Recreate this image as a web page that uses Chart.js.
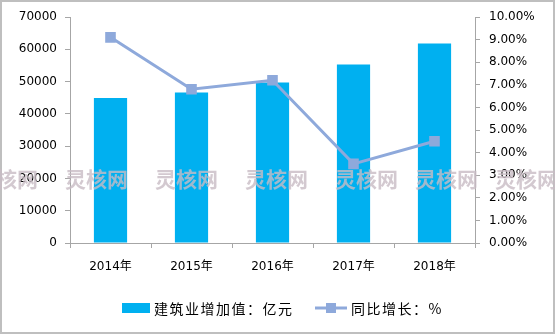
<!DOCTYPE html>
<html>
<head>
<meta charset="utf-8">
<script src="https://cdn.jsdelivr.net/npm/chart.js@4.4.0/dist/chart.umd.min.js"></script>
<style>
    body { margin: 0; background: #fff; }
    #wrap { width: 555px; height: 334px; }
</style>
</head>
<body>
<div id="wrap"><canvas id="chart" width="555" height="334"></canvas></div>
<script>
// data
const years = ['2014年', '2015年', '2016年', '2017年', '2018年'];
const addedValue = [44880, 46627, 49703, 55313, 61808]; // 亿元
const growthRate = [9.1, 6.8, 7.2, 3.5, 4.5]; // %
const barLabel = '建筑业增加值：亿元';
const lineLabel = '同比增长：%';
const watermark = '灵核网';

const barColor = '#00B0F0';
const lineColor = '#8EA9DB';
const axisColor = '#A6A6A6';
const numFont = { family: 'DejaVu Sans, Noto Sans CJK SC', size: 12 };

// frame + white background
const framePlugin = {
    id: 'frame',
    beforeDraw(chart) {
        const ctx = chart.ctx;
        ctx.save();
        ctx.fillStyle = '#fff';
        ctx.fillRect(0, 0, chart.width, chart.height);
        ctx.strokeStyle = '#BFBFBF';
        ctx.lineWidth = 2;
        ctx.strokeRect(1, 1, chart.width - 2, chart.height - 2);
        ctx.restore();
    }
};

// watermark row + legend drawn by hand
const extrasPlugin = {
    id: 'extras',
    afterDraw(chart) {
        const ctx = chart.ctx;
        ctx.save();
        ctx.font = 'bold 21px "Noto Sans CJK SC"';
        ctx.fillStyle = 'rgba(200, 188, 196, 0.8)';
        ctx.textBaseline = 'middle';
        [-25, 65, 155, 245, 335, 415, 495].forEach(x => ctx.fillText(watermark, x, 179));
        ctx.restore();

        const bars = chart.data.datasets.find(d => d.type !== 'line');
        const line = chart.data.datasets.find(d => d.type === 'line');
        ctx.save();
        ctx.font = '14px "Noto Sans CJK SC"';
        ctx.letterSpacing = '1.5px';
        ctx.textBaseline = 'middle';
        // bar item
        ctx.fillStyle = bars.backgroundColor;
        ctx.fillRect(122, 303, 28, 10);
        ctx.fillStyle = '#000';
        ctx.fillText(bars.label, 154, 309);
        // line item
        ctx.strokeStyle = line.borderColor;
        ctx.lineWidth = 3;
        ctx.beginPath();
        ctx.moveTo(315, 308);
        ctx.lineTo(347, 308);
        ctx.stroke();
        ctx.fillStyle = line.pointBackgroundColor;
        ctx.fillRect(326, 303, 10, 10);
        ctx.fillStyle = '#000';
        ctx.fillText(line.label, 351, 309);
        ctx.restore();
    }
};

new Chart(document.getElementById('chart'), {
    type: 'bar',
    data: {
        labels: years,
        datasets: [
            {
                type: 'line',
                label: lineLabel,
                data: growthRate,
                yAxisID: 'y1',
                borderColor: lineColor,
                borderWidth: 3,
                pointStyle: 'rect',
                pointRadius: 7.5,
                pointBackgroundColor: lineColor,
                pointBorderColor: lineColor,
                pointBorderWidth: 0,
                tension: 0,
                order: 0
            },
            {
                type: 'bar',
                label: barLabel,
                data: addedValue,
                yAxisID: 'y',
                backgroundColor: barColor,
                categoryPercentage: 1,
                barPercentage: 0.41,
                order: 1
            }
        ]
    },
    options: {
        responsive: false,
        animation: false,
        layout: { padding: { top: 17, left: 0, right: 0, bottom: 0 } },
        plugins: {
            legend: { display: false },
            tooltip: { enabled: false }
        },
        scales: {
            x: {
                grid: { display: true, drawOnChartArea: false, drawTicks: true, tickLength: 5, color: axisColor, offset: true },
                border: { display: true, color: axisColor, width: 1 },
                ticks: { color: '#000', font: numFont, padding: 12 },
                afterFit(scale) { scale.height = 91; }
            },
            y: {
                position: 'left',
                min: 0,
                max: 70000,
                ticks: { stepSize: 10000, color: '#000', font: numFont, padding: 8, callback: v => String(v) },
                grid: { drawOnChartArea: false, drawTicks: true, tickLength: 5, color: axisColor },
                border: { display: true, color: axisColor, width: 1 },
                afterFit(scale) { scale.width = 70; }
            },
            y1: {
                position: 'right',
                min: 0,
                max: 10,
                ticks: {
                    stepSize: 1,
                    color: '#000',
                    font: numFont,
                    padding: 9,
                    callback: v => v.toFixed(2) + '%'
                },
                grid: { drawOnChartArea: false, drawTicks: true, tickLength: 5, color: axisColor },
                border: { display: true, color: axisColor, width: 1 },
                afterFit(scale) { scale.width = 80; }
            }
        }
    },
    plugins: [framePlugin, extrasPlugin]
});
</script>
</body>
</html>
